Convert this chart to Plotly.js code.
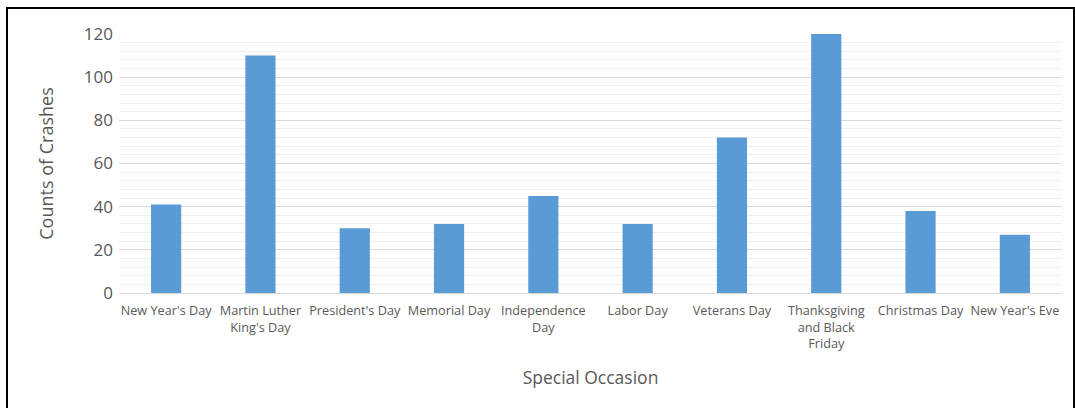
<!DOCTYPE html>
<html>
<head>
<meta charset="utf-8">
<script src="https://cdn.plot.ly/plotly-3.0.1.min.js"></script>
<style>
html,body{margin:0;padding:0;background:#fff;}
#wrap{position:relative;width:1075px;height:408px;overflow:hidden;}
#chart{position:absolute;left:0;top:0;width:1075px;height:408px;}
.ln{position:absolute;background:#000;pointer-events:none;}
</style>
</head>
<body>
<div id="wrap">
<div id="chart"></div>
<div class="ln" style="left:6px;top:7px;width:1069px;height:2px;"></div>
<div class="ln" style="left:6px;top:7px;width:2px;height:401px;"></div>
<div class="ln" style="left:1073px;top:7px;width:2px;height:401px;"></div>
</div>
<script>
var categories = ["New Year's Day", "Martin Luther<br>King's Day", "President's Day", "Memorial Day",
  "Independence<br>Day", "Labor Day", "Veterans Day", "Thanksgiving<br>and Black<br>Friday",
  "Christmas Day", "New Year's Eve"];
var crashCounts = [41, 110, 30, 32, 45, 32, 72, 121, 38, 27];
var yTickValues = [0, 20, 40, 60, 80, 100, 120];

var trace = {
  type: 'bar',
  x: categories,
  y: crashCounts,
  marker: {color: '#5b9bd5'},
  cliponaxis: false,
  hoverinfo: 'x+y'
};

var layout = {
  width: 1075, height: 408,
  margin: {l: 119, r: 13, t: 34, b: 115},
  paper_bgcolor: '#fff', plot_bgcolor: '#fff',
  bargap: 0.68,
  showlegend: false,
  font: {family: 'Open Sans, sans-serif', color: '#595959'},
  xaxis: {
    type: 'category',
    tickfont: {size: 12.7, color: '#595959'},
    ticklabelstandoff: 6,
    showline: true, linecolor: '#d9d9d9', linewidth: 1,
    ticks: '', showgrid: false,
    title: {text: 'Special Occasion', font: {size: 17.5, color: '#595959'}, standoff: 20},
    automargin: false
  },
  yaxis: {
    range: [0, 120],
    tickvals: yTickValues,
    tickfont: {size: 17, color: '#595959'},
    ticklabelstandoff: 5,
    showgrid: true, gridcolor: '#d9d9d9', gridwidth: 1,
    zeroline: false,
    ticks: '', ticklen: 0,
    minor: {dtick: 4, showgrid: true, gridcolor: '#f0f0f0', gridwidth: 1, ticks: ''},
    title: {text: 'Counts of Crashes', font: {size: 18, color: '#595959'}, standoff: 25},
    automargin: false
  }
};

Plotly.newPlot('chart', [trace], layout, {displayModeBar: false, staticPlot: true});
</script>
</body>
</html>
